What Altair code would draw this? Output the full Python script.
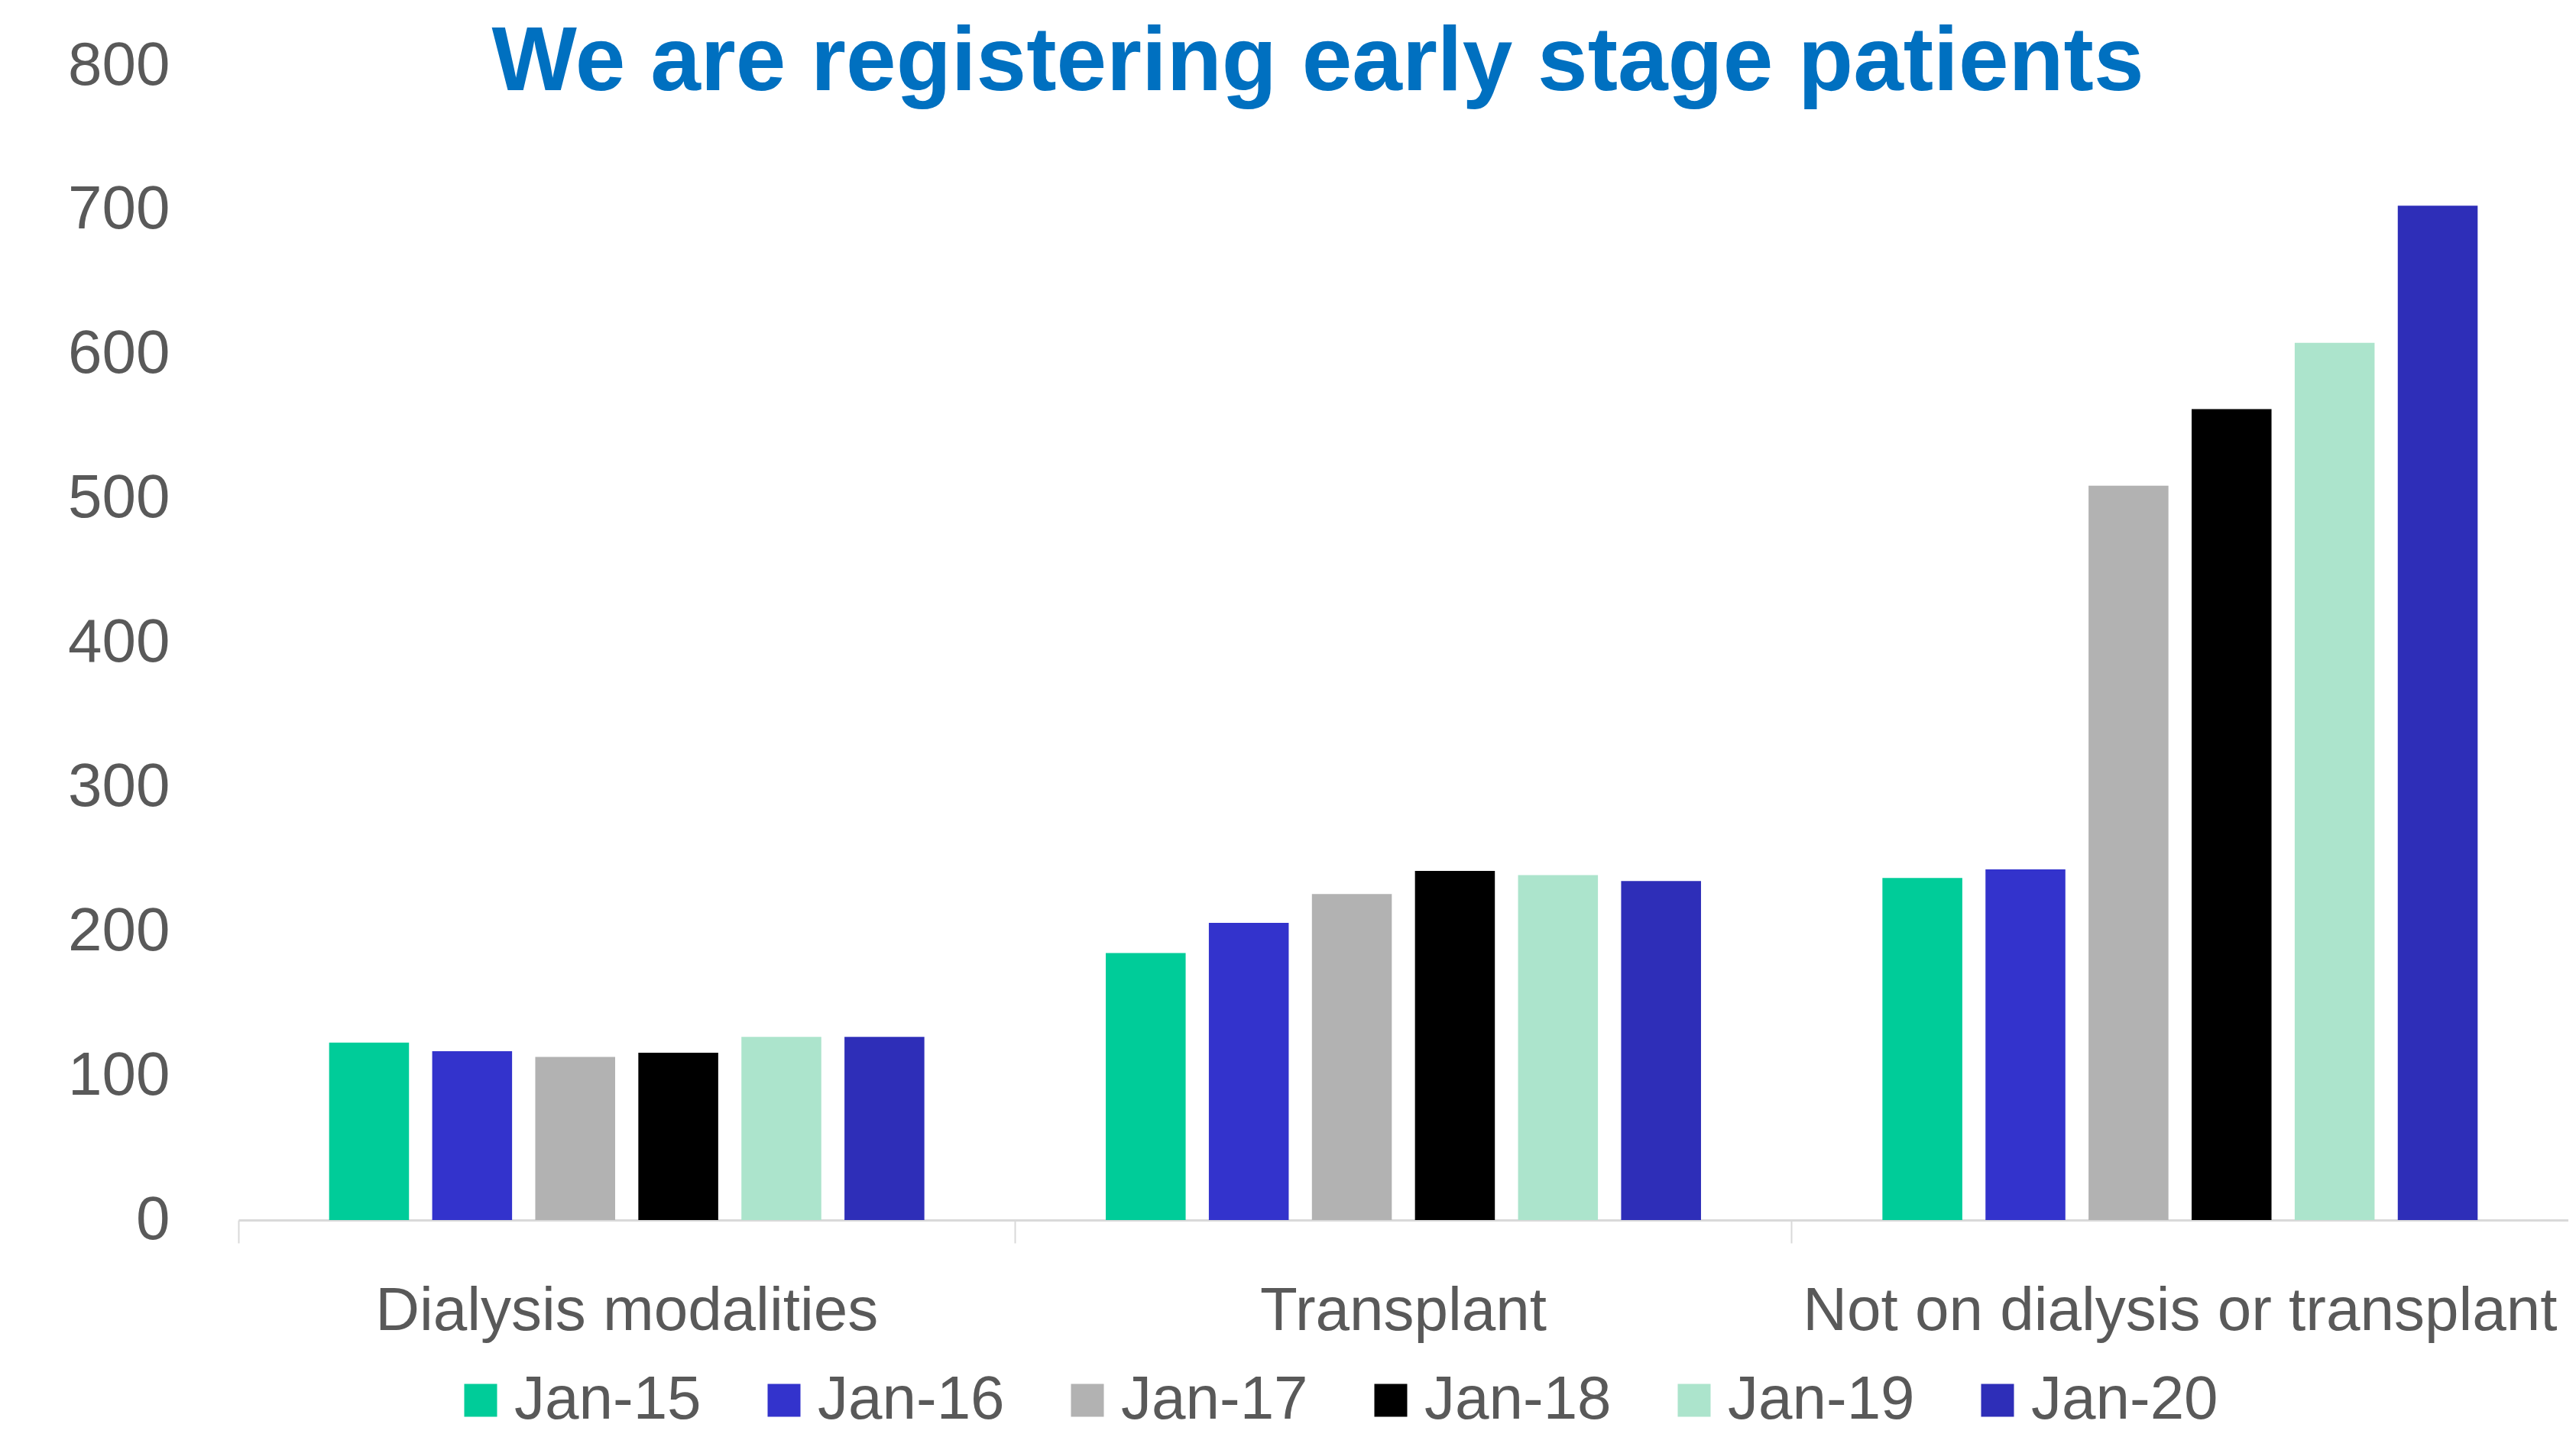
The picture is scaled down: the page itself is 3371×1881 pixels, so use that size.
import altair as alt
import pandas as pd

categories = ["Dialysis modalities", "Transplant", "Not on dialysis or transplant"]
series = ["Jan-15", "Jan-16", "Jan-17", "Jan-18", "Jan-19", "Jan-20"]
colors = ["#00CC99", "#3333CC", "#B2B2B2", "#000000", "#ACE4CC", "#2E2EB8"]

dialysis = [123, 117, 113, 116, 127, 127]
transplant = [185, 206, 226, 242, 239, 235]
not_on = [237, 243, 509, 562, 608, 703]

rows = []
for cat, vals in zip(categories, [dialysis, transplant, not_on]):
    for s, v in zip(series, vals):
        rows.append({"category": cat, "series": s, "value": v})
df = pd.DataFrame(rows)

FONT = "Liberation Sans, Arial, sans-serif"
LBL = 80

chart = alt.Chart(df).mark_bar().encode(
    x=alt.X("category:N", sort=categories, title=None,
            scale=alt.Scale(paddingInner=0, paddingOuter=0),
            axis=alt.Axis(bandPosition=0, labelAngle=0,
                          labelFontSize=LBL, labelColor="#595959", labelFont=FONT,
                          tickSize=30, tickColor="#D9D9D9", tickWidth=2,
                          domainColor="#D9D9D9", domainWidth=3,
                          labelPadding=50, labelLimit=2000)),
    xOffset=alt.XOffset("series:N", sort=series,
                        scale=alt.Scale(paddingInner=0.225, paddingOuter=0.88)),
    y=alt.Y("value:Q", title=None,
            scale=alt.Scale(domain=[0, 800], nice=False),
            axis=alt.Axis(values=[0, 100, 200, 300, 400, 500, 600, 700, 800],
                          domain=False, ticks=False, grid=False,
                          labelFontSize=LBL, labelColor="#595959", labelFont=FONT,
                          labelPadding=90)),
    color=alt.Color("series:N", sort=series,
                    scale=alt.Scale(domain=series, range=colors),
                    legend=alt.Legend(title=None, orient="none", direction="horizontal",
                                      legendX=277, legendY=1707,
                                      symbolType="square", symbolSize=1849,
                                      symbolStrokeWidth=0,
                                      labelFontSize=LBL, labelColor="#595959",
                                      labelFont=FONT, labelOffset=4,
                                      columnPadding=68, labelLimit=1000)),
).properties(
    width=3049,
    height=1511,
    title=alt.TitleParams("We are registering early stage patients",
                          fontSize=118, font=FONT, fontWeight="bold",
                          color="#0070C0", anchor="middle", dx=-112, offset=-40,
                          baseline="alphabetic", dy=150),
    padding={"left": 304, "top": 78, "right": 0, "bottom": 284},
    autosize=alt.AutoSizeParams(type="none"),
).configure_view(stroke=None)

chart.save("out.html", embed_options={"renderer": "svg", "actions": False})
